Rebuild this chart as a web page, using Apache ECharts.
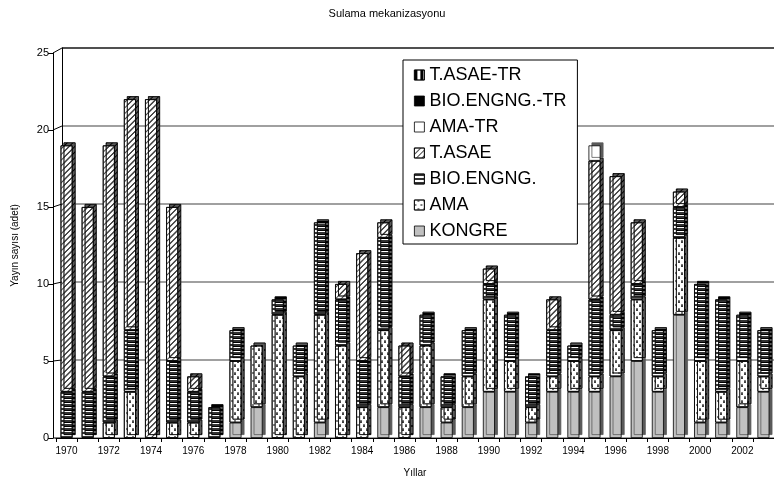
<!DOCTYPE html>
<html><head><meta charset="utf-8">
<script src="https://cdn.jsdelivr.net/npm/echarts@6/dist/echarts.min.js"></script>
<style>html,body{margin:0;padding:0;background:#fff}#c{width:774px;height:483px}</style>
</head><body><div id="c"></div>
<script>
const years = ['1970','1971','1972','1973','1974','1975','1976','1977','1978','1979','1980','1981','1982','1983','1984','1985','1986','1987','1988','1989','1990','1991','1992','1993','1994','1995','1996','1997','1998','1999','2000','2001','2002','2003'];
const kongre  = [0,0,0,0,0,0,0,0,1,2,0,0,1,0,0,2,0,2,1,2,3,3,1,3,3,3,4,5,3,8,1,1,2,3];
const ama     = [0,0,1,3,0,1,1,0,4,4,8,4,7,6,2,5,2,4,1,2,6,2,1,1,2,1,3,4,1,5,4,2,3,1];
const bio     = [3,3,3,4,0,4,2,2,2,0,1,2,6,3,3,6,2,2,2,3,1,3,2,3,1,5,1,1,3,2,5,6,3,3];
const tasae   = [16,12,15,15,22,10,1,0,0,0,0,0,0,1,7,1,2,0,0,0,1,0,0,2,0,9,9,4,0,1,0,0,0,0];
const amaTR   = [0,0,0,0,0,0,0,0,0,0,0,0,0,0,0,0,0,0,0,0,0,0,0,0,0,1,0,0,0,0,0,0,0,0];
const bioTR   = [0,0,0,0,0,0,0,0,0,0,0,0,0,0,0,0,0,0,0,0,0,0,0,0,0,0,0,0,0,0,0,0,0,0];
const tasaeTR = [0,0,0,0,0,0,0,0,0,0,0,0,0,0,0,0,0,0,0,0,0,0,0,0,0,0,0,0,0,0,0,0,0,0];
const legendOrder = ['T.ASAE-TR','BIO.ENGNG.-TR','AMA-TR','T.ASAE','BIO.ENGNG.','AMA','KONGRE'];
const yTicks = [0,5,10,15,20,25];

const font = '"Liberation Sans", Arial, sans-serif';
const chart = echarts.init(document.getElementById('c'));
const nz = a => a.map(v => v === 0 ? '-' : v);
const base = {borderColor:'#000', borderWidth:0.8, shadowColor:'#5a5a5a', shadowOffsetX:3, shadowOffsetY:-3, shadowBlur:0};
function mk(name, data, extra){
  return {name, type:'bar', stack:'s', xAxisIndex:0, yAxisIndex:0, barWidth:12, data:nz(data),
    itemStyle:Object.assign({}, base, extra), emphasis:{disabled:true}};
}
const series = [
  mk('KONGRE', kongre, {color:'#c0c0c0'}),
  mk('AMA', ama, {color:'#fff', decal:{symbol:'circle', symbolSize:1, dashArrayX:[[1.5,3.5],[0,2.5,1.5,1]], dashArrayY:[1.5,2], color:'#555'}}),
  mk('BIO.ENGNG.', bio, {color:'#fff', decal:{symbol:'rect', symbolSize:1, dashArrayX:[1,0], dashArrayY:[1.5,1.5], color:'#333'}}),
  mk('T.ASAE', tasae, {color:'#fff', decal:{symbol:'rect', symbolSize:1, dashArrayX:[1,0], dashArrayY:[1,3], rotation:-Math.PI/4, color:'#444'}}),
  mk('AMA-TR', amaTR, {color:'#fff'}),
  mk('BIO.ENGNG.-TR', bioTR, {color:'#000'}),
  mk('T.ASAE-TR', tasaeTR, {color:'#fff', decal:{symbol:'rect', symbolSize:1, dashArrayX:[3,3], dashArrayY:[1,0], color:'#000'}})
];
series.push({type:'bar', xAxisIndex:1, yAxisIndex:1, data:[], silent:true});

chart.setOption({
  animation:false,
  backgroundColor:'#fff',
  title:{text:'Sulama mekanizasyonu', left:'center', top:3, textStyle:{fontFamily:font, fontSize:11, fontWeight:'normal', color:'#000'}},
  legend:{orient:'vertical', left:403, top:60, data:legendOrder, icon:'rect', itemWidth:10, itemHeight:10, itemGap:8,
    textStyle:{fontFamily:font, fontSize:18, color:'#000'}, backgroundColor:'#fff', borderColor:'#000', borderWidth:1,
    padding:[6,11,4,11], itemStyle:{shadowColor:'rgba(0,0,0,0)', shadowOffsetX:0, shadowOffsetY:0, borderColor:'#000', borderWidth:0.8}},
  grid:[
    {left:56, top:53, width:719, height:390},
    {left:62, top:48, width:712, height:390}
  ],
  xAxis:[
    {type:'category', gridIndex:0, data:years, name:'Yıllar', nameLocation:'middle', nameGap:30,
     nameTextStyle:{fontFamily:font, fontSize:10, color:'#000'},
     axisLine:{lineStyle:{color:'#000', width:1}}, axisTick:{show:true, interval:0, length:4, lineStyle:{color:'#000'}},
     axisLabel:{interval:1, fontFamily:font, fontSize:10, color:'#000', margin:8}},
    {type:'category', gridIndex:1, data:years, show:false}
  ],
  yAxis:[
    {type:'value', gridIndex:0, min:0, max:25, interval:5, offset:3, name:'Yayın sayısı (adet)', nameLocation:'middle', nameGap:33,
     nameTextStyle:{fontFamily:font, fontSize:10, color:'#000'},
     axisLine:{show:true, lineStyle:{color:'#000', width:1}}, axisTick:{show:true, length:5, lineStyle:{color:'#000'}},
     axisLabel:{fontFamily:font, fontSize:11, color:'#000', margin:4}, splitLine:{show:false}},
    {type:'value', gridIndex:1, min:0, max:25, interval:5,
     axisLine:{show:true, lineStyle:{color:'#000', width:1}}, axisTick:{show:false}, axisLabel:{show:false},
     splitLine:{show:true, lineStyle:{color:'#808080', width:1.5}}}
  ],
  series:series
});

// slanted connectors from the front axis to the back wall, positioned through the axes' own scales
const frontX = chart.convertToPixel({gridIndex:0}, [0,0])[0] - 10.6 - 3;
const backX = chart.convertToPixel({gridIndex:1}, [0,0])[0] - 10.5;
const connectors = yTicks.map(v => ({
  type:'line', silent:true, z:50,
  shape:{x1:frontX, y1:chart.convertToPixel({yAxisIndex:0}, v), x2:backX, y2:chart.convertToPixel({yAxisIndex:1}, v)},
  style:{stroke:'#000', lineWidth:1}
}));
connectors.push({type:'line', silent:true, z:50,
  shape:{x1:backX, y1:chart.convertToPixel({yAxisIndex:1}, 25), x2:774, y2:chart.convertToPixel({yAxisIndex:1}, 25)},
  style:{stroke:'#000', lineWidth:1}});
chart.setOption({graphic:connectors});
</script></body></html>
